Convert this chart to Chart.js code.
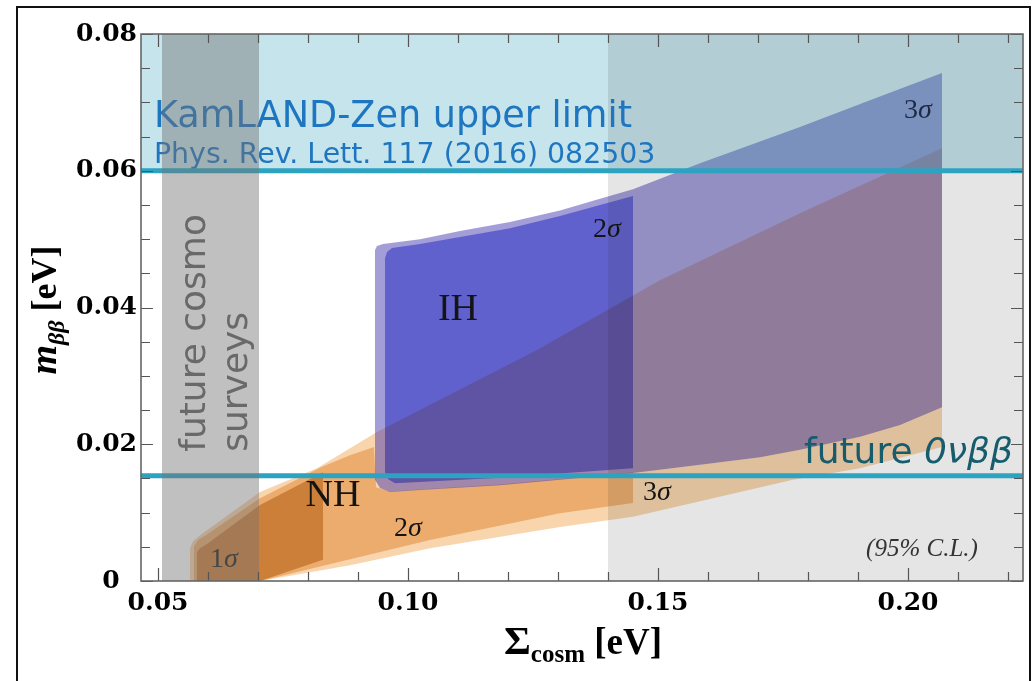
<!DOCTYPE html>
<html><head><meta charset="utf-8">
<script src="https://cdn.jsdelivr.net/npm/chart.js@4.4.1/dist/chart.umd.min.js"></script>
<style>
html,body{margin:0;padding:0;background:#fff;}
#wrap{position:relative;width:1035px;height:681px;overflow:hidden;}
#frame{position:absolute;left:16px;top:6px;width:1011px;height:700px;border-left:2px solid #111;border-top:2px solid #111;border-right:2px solid #111;}
canvas{position:absolute;left:0;top:0;}
</style></head><body>
<div id="wrap"><canvas id="c" width="1035" height="681"></canvas><div id="frame"></div></div>
<script>
// ---------- axis ranges & ticks ----------
const X_RANGE = [0.0466, 0.223];
const Y_RANGE = [0, 0.08];
const X_TICK_STEP = 0.05;
const Y_TICK_STEP = 0.02;
const X_MINOR_TICKS = [0.05,0.06,0.07,0.08,0.09,0.10,0.11,0.12,0.13,0.14,0.15,0.16,0.17,0.18,0.19,0.20,0.21,0.22];
const X_MAJOR_TICKS = [0.05,0.10,0.15,0.20];
const Y_MINOR_TICKS = [0,0.005,0.01,0.015,0.02,0.025,0.03,0.035,0.04,0.045,0.05,0.055,0.06,0.065,0.07,0.075,0.08];
const Y_MAJOR_TICKS = [0,0.02,0.04,0.06,0.08];

// ---------- limits & bands ----------
const KAMLAND_LIMIT = 0.06;
const FUTURE_LIMIT = 0.0154;
const COSMO_BAND = [0.0508, 0.0702];
const WIDE_BAND = [0.14, 0.23];

// ---------- regions [Sigma, m_bb] ----------
const NH_3SIGMA = [[0.0564,0],[0.0564,0.0048],[0.0570,0.0058],[0.0584,0.0067],[0.0704,0.0130],[0.0818,0.0165],[0.0938,0.0218],[0.1258,0.0338],[0.1504,0.0440],[0.1784,0.0538],[0.2068,0.0633],[0.2068,0.0196],[0.1904,0.0165],[0.1770,0.0148],[0.1450,0.0094],[0.1304,0.0079],[0.1044,0.0048],[0.0884,0.0023],[0.0704,0]];
const NH_2SIGMA = [[0.0572,0],[0.0572,0.0051],[0.0580,0.0060],[0.0594,0.0066],[0.0704,0.0121],[0.0828,0.0167],[0.0884,0.0184],[0.0932,0.0196],[0.0936,0.0137],[0.0964,0.0131],[0.1024,0.0134],[0.1184,0.0141],[0.1304,0.0149],[0.1450,0.0159],[0.1450,0.0114],[0.1304,0.0099],[0.1044,0.0060],[0.0704,0]];
const NH_1SIGMA = [[0.0578,0],[0.0578,0.0042],[0.0584,0.0048],[0.0598,0.0054],[0.0704,0.0111],[0.0830,0.0159],[0.0830,0.0031],[0.0704,0]];
const IH_3SIGMA = [[0.0934,0.0148],[0.0934,0.0484],[0.0938,0.0490],[0.0950,0.0493],[0.1024,0.0500],[0.1104,0.0512],[0.1204,0.0525],[0.1304,0.0542],[0.1384,0.0559],[0.1450,0.0573],[0.1584,0.0611],[0.1784,0.0664],[0.1924,0.0703],[0.2068,0.0743],[0.2068,0.0254],[0.1984,0.0228],[0.1904,0.0211],[0.1784,0.0192],[0.1704,0.0181],[0.1584,0.0170],[0.1450,0.0158],[0.1304,0.0148],[0.1184,0.0140],[0.1024,0.0133],[0.0964,0.0130],[0.0944,0.0136]];
const IH_2SIGMA = [[0.0954,0.0159],[0.0954,0.0472],[0.0958,0.0481],[0.0968,0.0487],[0.1024,0.0493],[0.1104,0.0503],[0.1204,0.0516],[0.1304,0.0534],[0.1384,0.0550],[0.1450,0.0563],[0.1450,0.0165],[0.1184,0.0151],[0.0974,0.0143],[0.0960,0.0149]];

// ---------- styles ----------
const SERIF = '"Liberation Serif", "Times New Roman", serif';
const SANS = '"DejaVu Sans", Verdana, sans-serif';
const LINE_COLOR = 'rgb(45,163,194)';

const pts = a => a.map(([x, y]) => ({x, y}));
const rect = (x0, x1, y0, y1) => [{x:x0,y:y0},{x:x1,y:y0},{x:x1,y:y1},{x:x0,y:y1}];
function shape(data, color, blend) {
  return {data, fill: 'shape', backgroundColor: color, borderColor: 'rgba(0,0,0,0)', borderWidth: 0,
          pointRadius: 0, pointHoverRadius: 0, tension: 0, blend: blend || 'source-over'};
}
function hline(y, color, w) {
  return {data: [{x: X_RANGE[0] - 0.01, y}, {x: X_RANGE[1] + 0.01, y}], fill: false, borderColor: color,
          backgroundColor: color, borderWidth: w, pointRadius: 0, pointHoverRadius: 0, blend: 'source-over'};
}

const datasets = [
  shape(pts(NH_3SIGMA), 'rgb(249,213,173)', 'multiply'),   // 0
  shape(pts(NH_2SIGMA), 'rgb(242,206,162)', 'multiply'),   // 1
  shape(pts(NH_1SIGMA), 'rgb(221,188,132)', 'multiply'),   // 2
  shape(pts(IH_3SIGMA), 'rgba(51,40,169,0.45)'),           // 3
  shape(pts(IH_2SIGMA), 'rgb(151,156,244)', 'multiply'),   // 4
  shape(rect(X_RANGE[0] - 0.01, X_RANGE[1] + 0.01, KAMLAND_LIMIT, Y_RANGE[1] + 0.01), 'rgba(62,165,192,0.3)'), // 5
  shape(rect(WIDE_BAND[0], WIDE_BAND[1], Y_RANGE[0] - 0.01, Y_RANGE[1] + 0.01), 'rgba(40,40,40,0.12)'),       // 6
  hline(KAMLAND_LIMIT, LINE_COLOR, 5),                                                                            // 7
  hline(FUTURE_LIMIT, LINE_COLOR, 5),                                                                             // 8
  shape(rect(COSMO_BAND[0], COSMO_BAND[1], Y_RANGE[0] - 0.01, Y_RANGE[1] + 0.01), 'rgba(115,115,115,0.45)')   // 9
];
datasets.forEach((d, i) => { d.order = datasets.length - i; });

// ---------- text annotations (data coordinates) ----------
const sig = (n, size) => [{text: n, font: `${size}px ${SERIF}`}, {text: 'σ', font: `italic ${size}px ${SERIF}`}];
const ANNOTATIONS = [
  {layer: 6, x: 0.0492, y: 0.0664, align: 'left', color: 'rgb(30,118,192)', parts: [{text: 'KamLAND-Zen upper limit', font: `36.6px ${SANS}`}]},
  {layer: 6, x: 0.0492, y: 0.0611, align: 'left', color: 'rgb(30,118,192)', parts: [{text: 'Phys. Rev. Lett. 117 (2016) 082503', font: `28.4px ${SANS}`}]},
  {layer: 6, x: 0.110, y: 0.0382, align: 'center', color: '#141414', parts: [{text: 'IH', font: `38px ${SERIF}`}]},
  {layer: 6, x: 0.085, y: 0.0110, align: 'center', color: '#141414', parts: [{text: 'NH', font: `38px ${SERIF}`}]},
  {layer: 6, x: 0.0632, y: 0.0020, align: 'center', color: '#222', parts: sig('1', 28)},
  {layer: 6, x: 0.100, y: 0.0066, align: 'center', color: '#141414', parts: sig('2', 28)},
  {layer: 6, x: 0.1398, y: 0.0503, align: 'center', color: '#141414', parts: sig('2', 28)},
  {layer: 6, x: 0.1498, y: 0.0118, align: 'center', color: '#141414', parts: sig('3', 28)},
  {layer: 6, x: 0.2020, y: 0.0677, align: 'center', color: '#1e2a44', parts: sig('3', 28)},
  {layer: 9, x: 0.2028, y: 0.0037, align: 'center', color: '#333', parts: [{text: '(95% C.L.)', font: `italic 25px ${SERIF}`}]},
  {layer: 9, x: 0.2210, y: 0.0173, align: 'right', color: 'rgb(22,92,108)', parts: [{text: 'future ', font: `36px ${SANS}`}, {text: '0νββ', font: `italic 36px ${SANS}`}]},
  {layer: 9, x: 0.0594, y: 0.0189, align: 'left', rotate: -Math.PI / 2, color: 'rgb(105,105,105)', parts: [{text: 'future cosmo', font: `36px ${SANS}`}]},
  {layer: 9, x: 0.0678, y: 0.0189, align: 'left', rotate: -Math.PI / 2, color: 'rgb(105,105,105)', parts: [{text: 'surveys', font: `36px ${SANS}`}]}
];

function drawParts(ctx, parts, x, y, align, color) {
  let w = 0;
  for (const p of parts) { ctx.font = p.font; w += ctx.measureText(p.text).width; }
  let cx = align === 'center' ? x - w / 2 : align === 'right' ? x - w : x;
  ctx.textAlign = 'left';
  ctx.textBaseline = 'alphabetic';
  for (const p of parts) {
    ctx.font = p.font;
    ctx.fillStyle = p.color || color;
    ctx.fillText(p.text, cx, y + (p.dy || 0));
    cx += ctx.measureText(p.text).width;
  }
}

const decorPlugin = {
  id: 'decor',
  beforeDraw(chart) {
    const ctx = chart.ctx;
    ctx.save(); ctx.fillStyle = '#fff'; ctx.fillRect(0, 0, chart.width, chart.height); ctx.restore();
  },
  beforeDatasetsDraw(chart) {
    chart.ctx.globalCompositeOperation = chart.data.datasets[0].blend;
  },
  afterDatasetDraw(chart, args) {
    const ctx = chart.ctx;
    ctx.globalCompositeOperation = 'source-over';
    const xs = chart.scales.x, ys = chart.scales.y, a = chart.chartArea;
    const list = ANNOTATIONS.filter(t => t.layer === args.index);
    if (list.length) {
      ctx.save();
      ctx.beginPath(); ctx.rect(a.left, a.top, a.right - a.left, a.bottom - a.top); ctx.clip();
      for (const t of list) {
        ctx.save();
        ctx.translate(xs.getPixelForValue(t.x), ys.getPixelForValue(t.y));
        if (t.rotate) ctx.rotate(t.rotate);
        drawParts(ctx, t.parts, 0, 0, t.align, t.color);
        ctx.restore();
      }
      ctx.restore();
    }
    const next = chart.data.datasets[args.index + 1];
    ctx.globalCompositeOperation = next ? next.blend : 'source-over';
  },
  afterDatasetsDraw(chart) { chart.ctx.globalCompositeOperation = 'source-over'; },
  afterDraw(chart) {
    const ctx = chart.ctx, xs = chart.scales.x, ys = chart.scales.y, a = chart.chartArea;
    ctx.save();
    ctx.strokeStyle = '#555'; ctx.lineWidth = 1.2;
    ctx.beginPath();
    for (const v of X_MINOR_TICKS) {
      const px = Math.round(xs.getPixelForValue(v)) + 0.5;
      const len = X_MAJOR_TICKS.some(m => Math.abs(m - v) < 1e-9) ? 13 : 9;
      ctx.moveTo(px, a.bottom); ctx.lineTo(px, a.bottom - len);
      ctx.moveTo(px, a.top); ctx.lineTo(px, a.top + len);
    }
    for (const v of Y_MINOR_TICKS) {
      const py = Math.round(ys.getPixelForValue(v)) + 0.5;
      const len = Y_MAJOR_TICKS.some(m => Math.abs(m - v) < 1e-9) ? 12 : 9;
      ctx.moveTo(a.left, py); ctx.lineTo(a.left + len, py);
      ctx.moveTo(a.right, py); ctx.lineTo(a.right - len, py);
    }
    ctx.stroke();
    ctx.strokeStyle = '#666'; ctx.lineWidth = 1.6;
    ctx.strokeRect(a.left, a.top, a.right - a.left, a.bottom - a.top);
    ctx.fillStyle = '#000';
    drawParts(ctx, [
      {text: 'Σ', font: `bold 41px ${SERIF}`},
      {text: 'cosm', font: `bold 25px ${SERIF}`, dy: 8},
      {text: ' [eV]', font: `bold 37px ${SERIF}`}
    ], 583, 654, 'center', '#000');
    ctx.translate(56, 310);
    ctx.rotate(-Math.PI / 2);
    drawParts(ctx, [
      {text: 'm', font: `italic bold 38px ${SERIF}`},
      {text: 'ββ', font: `italic bold 24px ${SERIF}`, dy: 8},
      {text: ' [eV]', font: `bold 36px ${SERIF}`}
    ], 0, 0, 'center', '#000');
    ctx.restore();
  }
};

new Chart(document.getElementById('c'), {
  type: 'line',
  data: {datasets},
  options: {
    responsive: false,
    devicePixelRatio: 1,
    animation: false,
    events: [],
    layout: {padding: {left: 0, right: 12, top: 34, bottom: 0}},
    plugins: {legend: {display: false}, tooltip: {enabled: false}},
    scales: {
      x: {
        type: 'linear', min: X_RANGE[0], max: X_RANGE[1],
        grid: {display: false, drawTicks: false}, border: {display: false},
        ticks: {stepSize: X_TICK_STEP, includeBounds: false, maxRotation: 0, autoSkip: false, padding: 7,
                color: '#000', font: {family: 'DejaVu Serif', weight: 'bold', size: 25},
                callback: v => v.toFixed(2)},
        afterFit: s => { s.height = 100; }
      },
      y: {
        type: 'linear', min: Y_RANGE[0], max: Y_RANGE[1],
        grid: {display: false, drawTicks: false}, border: {display: false},
        ticks: {stepSize: Y_TICK_STEP, padding: 4, color: '#000', font: {family: 'DejaVu Serif', weight: 'bold', size: 25},
                callback: v => (v === 0 ? '0  ' : v.toFixed(2))},
        afterFit: s => { s.width = 141; }
      }
    }
  },
  plugins: [decorPlugin]
});
</script>
</body></html>
